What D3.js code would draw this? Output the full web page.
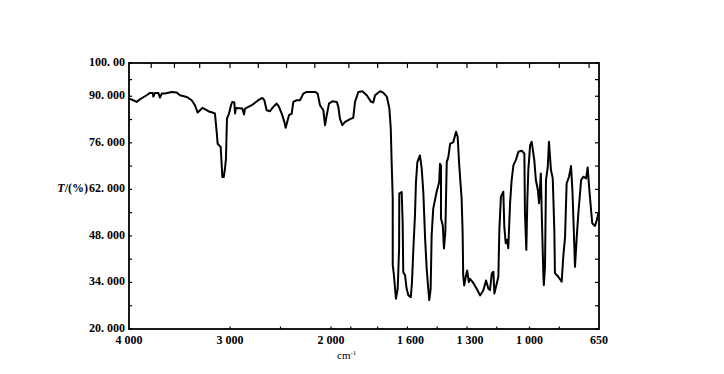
<!DOCTYPE html>
<html>
<head>
<meta charset="utf-8">
<script src="https://cdn.jsdelivr.net/npm/d3@7"></script>
<style>
    body { margin: 0; background: #fff; }
    .tick-label { font-family: "Liberation Serif", "DejaVu Serif", serif; font-weight: bold; font-size: 12px; fill: #000; }
    .spectrum { fill: none; stroke: #000; stroke-width: 2; stroke-linejoin: round; }
    .frame { fill: none; stroke: #000; stroke-width: 1.8; }
    .tick { stroke: #000; stroke-width: 1.2; }
</style>
</head>
<body>
<div id="chart"></div>
<script>
// spectrum (wavenumber in cm-1, transmittance in %)
var wavenumbers = [
    4000, 3957, 3924, 3891, 3825, 3792, 3765, 3759, 3743, 3710, 3693, 3676, 3644, 3577, 3528, 3495,
    3429, 3379, 3347, 3320, 3297, 3274, 3248, 3215, 3175, 3149, 3132, 3122, 3092, 3082, 3076, 3062,
    3050, 3040, 3030, 3010, 2990, 2977, 2957, 2950, 2941, 2878, 2861, 2851, 2785, 2720, 2680, 2660,
    2637, 2604, 2571, 2538, 2515, 2488, 2462, 2449, 2429, 2416, 2389, 2373, 2340, 2307, 2274, 2241,
    2158, 2132, 2109, 2076, 2059, 2042, 2020, 1993, 1971, 1963, 1955, 1943, 1929, 1904, 1888, 1879,
    1862, 1842, 1820, 1798, 1787, 1778, 1753, 1737, 1719, 1706, 1699, 1694, 1689, 1689, 1683, 1673,
    1664, 1657, 1656, 1644, 1639, 1636, 1627, 1619, 1610, 1598, 1592, 1585, 1577, 1572, 1565, 1552,
    1543, 1535, 1526, 1518, 1510, 1505, 1498, 1493, 1485, 1468, 1455, 1451, 1446, 1446, 1437, 1431,
    1424, 1417, 1409, 1400, 1384, 1370, 1362, 1354, 1342, 1337, 1334, 1329, 1320, 1314, 1306, 1300,
    1286, 1266, 1249, 1233, 1219, 1207, 1199, 1190, 1182, 1177, 1165, 1157, 1152, 1144, 1132, 1127,
    1120, 1113, 1107, 1098, 1090, 1081, 1069, 1056, 1039, 1026, 1023, 1016, 1011, 1006, 997, 989,
    976, 968, 958, 952, 943, 938, 930, 928, 922, 917, 908, 902, 892, 883, 875, 872,
    855, 838, 830, 821, 813, 801, 791, 784, 777, 771, 762, 754, 740, 729, 715, 707,
    700, 690, 684, 670, 661, 653
];
var transmittance = [
    89.3, 88.8, 88.3, 89.1, 90.3, 91.0, 91.0, 89.9, 91.0, 91.0, 89.6, 90.8, 90.8, 91.3, 91.1, 90.3,
    89.8, 88.8, 87.3, 85.1, 85.8, 86.5, 86.1, 85.5, 85.1, 84.8, 79.3, 75.7, 74.7, 69.2, 65.7, 65.7,
    68.2, 71.2, 83.3, 84.8, 87.3, 88.3, 88.1, 84.8, 86.5, 86.3, 84.5, 86.3, 87.3, 88.8, 89.5, 88.8,
    85.8, 85.5, 86.8, 87.8, 86.8, 84.8, 82.3, 80.5, 82.8, 84.3, 84.8, 88.3, 88.8, 88.8, 90.8, 91.3,
    91.3, 90.8, 87.3, 85.8, 81.3, 84.3, 87.8, 88.5, 88.3, 86.8, 83.3, 81.3, 82.3, 83.1, 83.5, 88.3,
    91.3, 91.5, 90.3, 88.3, 88.1, 90.3, 91.5, 91.1, 89.9, 86.3, 80.3, 69.2, 59.2, 39.3, 36.2, 29.1,
    32.1, 44.2, 60.7, 61.2, 52.2, 37.1, 36.2, 32.1, 30.1, 29.6, 34.1, 44.2, 54.2, 64.2, 70.2, 72.2,
    68.2, 61.2, 47.2, 38.1, 32.1, 28.7, 32.1, 48.2, 56.2, 61.2, 64.2, 69.7, 69.2, 53.2, 51.2, 44.2,
    49.2, 70.2, 71.7, 75.7, 76.2, 79.3, 77.8, 69.2, 59.2, 49.2, 36.1, 33.1, 36.1, 37.6, 34.1, 35.1,
    34.1, 32.1, 30.1, 31.6, 34.6, 32.1, 31.7, 36.7, 37.2, 30.7, 33.7, 35.7, 49.8, 59.8, 61.3, 50.8,
    45.8, 46.8, 44.3, 57.8, 64.8, 69.3, 70.8, 73.3, 73.6, 72.8, 54.8, 43.8, 58.8, 67.8, 75.3, 76.3,
    70.8, 64.8, 61.8, 57.8, 66.8, 53.8, 35.7, 33.2, 38.7, 64.8, 68.8, 76.3, 67.8, 65.3, 49.8, 36.8,
    35.7, 34.2, 41.7, 47.7, 63.8, 65.8, 69.0, 61.8, 49.8, 38.7, 47.7, 54.8, 64.8, 65.8, 65.3, 68.6,
    62.8, 55.8, 51.8, 51.0, 52.8, 54.8
];

// axis ticks
var xLabelTicks = [4000, 3000, 2000, 1600, 1300, 1000, 650];
var xTopTicks = [3780, 3550, 3300, 3000, 2720, 2440, 2160, 1910, 1765, 1615, 1465, 1315, 1165, 1000, 850, 700];
var xBottomTicks = [3000, 2500, 2000, 1900, 1765, 1615, 1465, 1315, 1165, 1000, 850];
var yLabelTicks = [20, 34, 48, 62, 76, 90, 100];
var yLabels = ["20. 000", "34. 000", "48. 000", "62. 000", "76. 000", "90. 000", "100. 00"];
var yMinorTicks = [27, 41, 55, 69, 83, 95];

var svg = d3.select("#chart")
    .append("svg")
    .attr("width", 724)
    .attr("height", 374);

var margin = { top: 63, right: 125, bottom: 45, left: 129 },
    width = 724 - margin.left - margin.right,
    height = 374 - margin.top - margin.bottom;

// the spectrometer chart doubles its scale below 2000 cm-1
var x = d3.scaleLinear()
    .domain([4000, 2000, 650])
    .range([0, 202, width]);

var y = d3.scaleLinear()
    .domain([20, 100])
    .range([height, 0]);

var g = svg.append("g")
    .attr("transform", "translate(" + margin.left + "," + margin.top + ")");

// frame
g.append("rect")
    .attr("class", "frame")
    .attr("x", 0)
    .attr("y", 0)
    .attr("width", width)
    .attr("height", height);

// inward ticks
g.selectAll(".top-tick")
    .data(xTopTicks)
    .enter().append("line")
    .attr("class", "tick")
    .attr("x1", function(d) { return x(d); })
    .attr("x2", function(d) { return x(d); })
    .attr("y1", 0)
    .attr("y2", 5);

g.selectAll(".bottom-tick")
    .data(xBottomTicks)
    .enter().append("line")
    .attr("class", "tick")
    .attr("x1", function(d) { return x(d); })
    .attr("x2", function(d) { return x(d); })
    .attr("y1", height)
    .attr("y2", height - 2.5);

var yAllTicks = yLabelTicks.concat(yMinorTicks);

g.selectAll(".left-tick")
    .data(yAllTicks)
    .enter().append("line")
    .attr("class", "tick")
    .attr("x1", 0)
    .attr("x2", 3)
    .attr("y1", function(d) { return y(d); })
    .attr("y2", function(d) { return y(d); });

g.selectAll(".right-tick")
    .data(yAllTicks)
    .enter().append("line")
    .attr("class", "tick")
    .attr("x1", width)
    .attr("x2", width - 4)
    .attr("y1", function(d) { return y(d); })
    .attr("y2", function(d) { return y(d); });

// tick labels
g.selectAll(".y-label")
    .data(yLabelTicks)
    .enter().append("text")
    .attr("class", "tick-label")
    .attr("x", -4)
    .attr("y", function(d) { return y(d) + 3; })
    .attr("text-anchor", "end")
    .text(function(d, i) { return yLabels[i]; });

g.selectAll(".x-label")
    .data(xLabelTicks)
    .enter().append("text")
    .attr("class", "tick-label")
    .attr("x", function(d) { return x(d); })
    .attr("y", height + 15)
    .attr("text-anchor", "middle")
    .text(function(d) { return d >= 1000 ? d3.format(",")(d).replace(",", " ") : d; });

// axis titles
var yTitle = svg.append("text")
    .attr("class", "tick-label")
    .attr("x", 88)
    .attr("text-anchor", "end")
    .attr("y", y(62) + margin.top + 3);
yTitle.append("tspan").style("font-style", "italic").text("T");
yTitle.append("tspan").text("/(%)");

var xTitle = svg.append("text")
    .attr("class", "tick-label")
    .style("font-weight", "normal")
    .style("font-size", "11px")
    .attr("x", 337)
    .attr("y", 359);
xTitle.append("tspan").text("cm");
xTitle.append("tspan").attr("dy", -4).style("font-size", "7px").text("-1");

// spectrum trace
var spectrumLine = d3.line()
    .x(function(d, i) { return x(wavenumbers[i]); })
    .y(function(d) { return y(d); });

g.append("path")
    .datum(transmittance)
    .attr("class", "spectrum")
    .attr("d", spectrumLine);
</script>
</body>
</html>
